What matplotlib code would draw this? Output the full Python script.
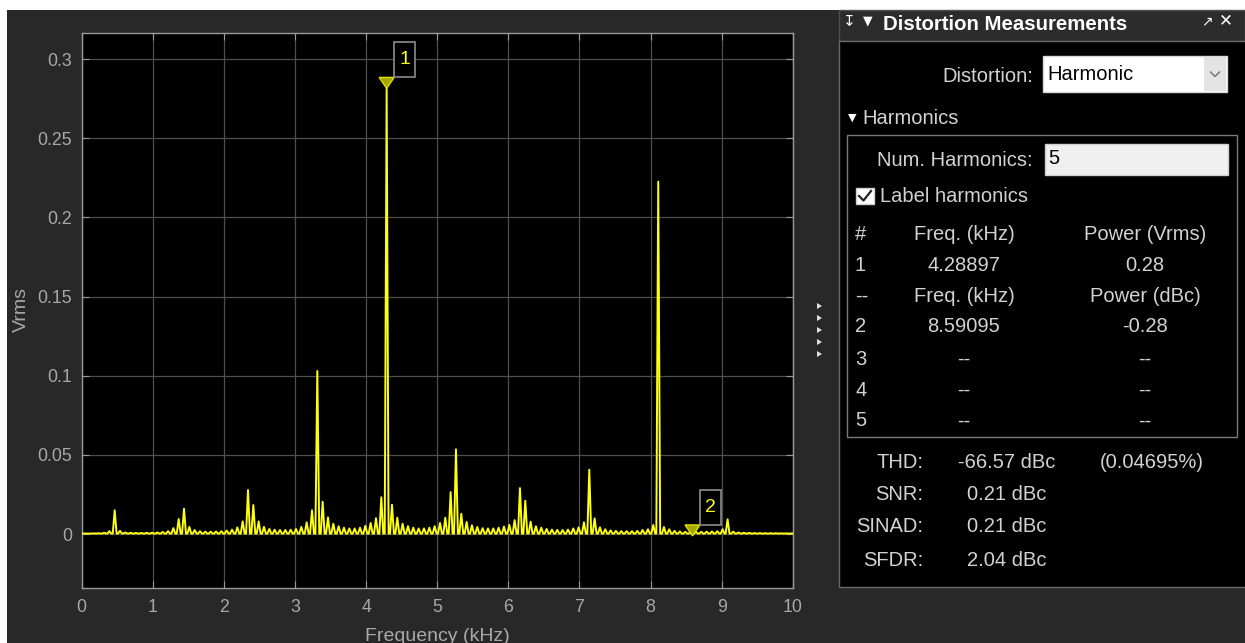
import numpy as np
import matplotlib
matplotlib.use("Agg")
import matplotlib.pyplot as plt
import matplotlib.transforms as mtransforms
from matplotlib.patches import Rectangle, Polygon
from matplotlib.lines import Line2D

W, H = 1245, 643

# spectrum comb peaks (kHz, Vrms)
peak_khz = [
    0.014, 0.089, 0.164, 0.239, 0.314, 0.389, 0.464, 0.539, 0.614, 0.689,
    0.764, 0.839, 0.914, 0.989, 1.064, 1.139, 1.214, 1.289, 1.364, 1.439,
    1.514, 1.589, 1.664, 1.739, 1.814, 1.889, 1.964, 2.039, 2.114, 2.189,
    2.264, 2.339, 2.414, 2.489, 2.564, 2.639, 2.714, 2.789, 2.864, 2.939,
    3.014, 3.089, 3.164, 3.239, 3.314, 3.389, 3.464, 3.539, 3.614, 3.689,
    3.764, 3.839, 3.914, 3.989, 4.064, 4.139, 4.214, 4.289, 4.364, 4.439,
    4.514, 4.589, 4.664, 4.739, 4.814, 4.889, 4.964, 5.039, 5.114, 5.189,
    5.264, 5.339, 5.414, 5.489, 5.564, 5.639, 5.714, 5.789, 5.864, 5.939,
    6.014, 6.089, 6.164, 6.239, 6.314, 6.389, 6.464, 6.539, 6.614, 6.689,
    6.764, 6.839, 6.914, 6.989, 7.064, 7.139, 7.214, 7.289, 7.364, 7.439,
    7.514, 7.589, 7.664, 7.739, 7.814, 7.889, 7.964, 8.039, 8.109, 8.189,
    8.264, 8.339, 8.414, 8.489, 8.564, 8.639, 8.714, 8.789, 8.864, 8.939,
    9.014, 9.084, 9.164, 9.239, 9.314, 9.389, 9.464, 9.539, 9.614, 9.689,
    9.764, 9.839, 9.914, 9.989,
]
peak_vrms = [
    0.0003, 0.0003, 0.0004, 0.0005, 0.0008, 0.0018, 0.0150, 0.0020, 0.0010, 0.0008,
    0.0007, 0.0007, 0.0008, 0.0008, 0.0010, 0.0013, 0.0018, 0.0037, 0.0095, 0.0160,
    0.0045, 0.0025, 0.0018, 0.0015, 0.0015, 0.0016, 0.0018, 0.0022, 0.0028, 0.0042,
    0.0080, 0.0278, 0.0183, 0.0080, 0.0045, 0.0032, 0.0027, 0.0025, 0.0025, 0.0027,
    0.0032, 0.0045, 0.0074, 0.0150, 0.1030, 0.0204, 0.0105, 0.0065, 0.0049, 0.0040,
    0.0035, 0.0035, 0.0040, 0.0052, 0.0070, 0.0100, 0.0232, 0.2815, 0.0185, 0.0103,
    0.0065, 0.0050, 0.0040, 0.0035, 0.0035, 0.0040, 0.0050, 0.0070, 0.0103, 0.0265,
    0.0535, 0.0128, 0.0076, 0.0055, 0.0045, 0.0037, 0.0035, 0.0035, 0.0040, 0.0047,
    0.0058, 0.0088, 0.0290, 0.0210, 0.0078, 0.0049, 0.0040, 0.0032, 0.0028, 0.0026,
    0.0025, 0.0028, 0.0035, 0.0042, 0.0074, 0.0406, 0.0099, 0.0042, 0.0030, 0.0023,
    0.0020, 0.0018, 0.0018, 0.0018, 0.0020, 0.0025, 0.0030, 0.0057, 0.2226, 0.0044,
    0.0030, 0.0020, 0.0016, 0.0014, 0.0013, 0.0013, 0.0014, 0.0015, 0.0016, 0.0018,
    0.0030, 0.0093, 0.0015, 0.0010, 0.0008, 0.0007, 0.0006, 0.0006, 0.0005, 0.0005,
    0.0005, 0.0004, 0.0004, 0.0004,
]

marker_khz = [4.28897, 8.59095]
marker_vrms = [0.2815, -0.0012]
marker_labels = ["1", "2"]

xticks = [0, 1, 2, 3, 4, 5, 6, 7, 8, 9, 10]
yticks = [0, 0.05, 0.1, 0.15, 0.2, 0.25, 0.3]
ytick_labels = ["0", "0.05", "0.1", "0.15", "0.2", "0.25", "0.3"]

table_rows = [
    ("#", "Freq. (kHz)", "Power (Vrms)"),
    ("1", "4.28897", "0.28"),
    ("--", "Freq. (kHz)", "Power (dBc)"),
    ("2", "8.59095", "-0.28"),
    ("3", "--", "--"),
    ("4", "--", "--"),
    ("5", "--", "--"),
]
stat_names = ["THD:", "SNR:", "SINAD:", "SFDR:"]
stat_values = ["-66.57 dBc", "0.21 dBc", "0.21 dBc", "2.04 dBc"]
stat_extra = ["(0.04695%)", "", "", ""]

BG = "#282828"
FG = "#a8a8a8"
PANEL_FG = "#d2d2d2"
YELLOW = "#ffff11"

plt.rcParams["font.family"] = ["Liberation Sans", "DejaVu Sans"]

fig = plt.figure(figsize=(W / 100, H / 100), dpi=100, facecolor="white")


def fx(x):
    return x / W


def fy(y):
    return 1 - y / H


def prect(x0, y0, x1, y1, **kw):
    r = Rectangle((fx(x0), fy(y1)), (x1 - x0) / W, (y1 - y0) / H,
                  transform=fig.transFigure, **kw)
    fig.add_artist(r)


def ptext(x, y, s, **kw):
    kw.setdefault("va", "center")
    kw.setdefault("fontsize", 14.5)
    kw.setdefault("color", PANEL_FG)
    fig.text(fx(x), fy(y), s, **kw)


# dark background below the white strip (kept behind the axes)
prect(7, 10, W, H, facecolor=BG, edgecolor="none", zorder=-10)

# ---- spectrum axes ----
ax_l, ax_r, ax_t, ax_b = 81.7, 792.7, 33, 588
ax = fig.add_axes([fx(ax_l), fy(ax_b), (ax_r - ax_l) / W, (ax_b - ax_t) / H])
ax.set_facecolor("black")

hw = 0.027
floor = 0.0003
xs, ys = [], []
for f, v in zip(peak_khz, peak_vrms):
    xs += [f - hw, f, f + hw]
    ys += [floor, v, floor]
ax.plot(xs, ys, color=YELLOW, lw=1.4, zorder=3)

ax.set_xlim(0, 10)
ax.set_ylim(-0.0341, 0.3165)
ax.set_xticks(xticks)
ax.set_yticks(yticks)
ax.set_yticklabels(ytick_labels)
ax.grid(True, color="#4e4e4e", lw=0.9)
ax.set_axisbelow(True)
for s in ax.spines.values():
    s.set_color("#9a9a9a")
    s.set_linewidth(1.0)
ax.tick_params(direction="in", top=True, right=True, length=5, width=0.8,
               color="#9a9a9a", labelcolor=FG, labelsize=12.8)
ax.tick_params(axis="y", pad=7)
ax.tick_params(axis="x", pad=8)

fig.text(fx(437), fy(641), "Frequency (kHz)", ha="center", va="baseline",
         fontsize=14, color=FG)
fig.text(fx(21), fy(310), "Vrms", ha="center", va="center", rotation=90,
         fontsize=14, color=FG)

# harmonic markers with label boxes (pixel offsets from the data point)
for f, v, lab in zip(marker_khz, marker_vrms, marker_labels):
    tr = mtransforms.ScaledTranslation(f, v, ax.transData)
    tri = Polygon([(-7.5, 11), (7.5, 11), (0, 0)], closed=True, transform=tr,
                  facecolor="#a6a600", edgecolor="#dede00", lw=1.0, zorder=5,
                  clip_on=False)
    ax.add_artist(tri)
    box = Rectangle((7.5, 11), 21, 35, transform=tr, facecolor="black",
                    edgecolor="#8c8c8c", lw=1.2, zorder=5, clip_on=False)
    ax.add_artist(box)
    ax.text(18, 28.5, lab, transform=tr, ha="center", va="center",
            color=YELLOW, fontsize=14, zorder=6, clip_on=False)

# splitter arrows
for yy in [306, 318, 330, 342, 354]:
    fig.add_artist(Polygon([(fx(817), fy(yy - 3)), (fx(817), fy(yy + 3)),
                            (fx(822), fy(yy))], closed=True,
                           transform=fig.transFigure, facecolor="#e0e0e0",
                           edgecolor="none"))

# ---- measurement panel ----
prect(839, 10, W, 41, facecolor="#2c2c2c", edgecolor="#505050", lw=1.0)
prect(839, 41, W + 2, 587, facecolor="black", edgecolor="#6a6a6a", lw=1.0)

ptext(849, 21, "\u21a7", color="white", fontsize=11, ha="center",
      family=["DejaVu Sans"])
ptext(868, 21, "\u25bc", color="white", fontsize=9, ha="center",
      family=["DejaVu Sans"])
ptext(883, 25, "Distortion Measurements", color="white", fontsize=14.7,
      fontweight="bold", ha="left")
ptext(1207, 21, "\u2197", color="white", fontsize=10, ha="center",
      family=["DejaVu Sans"])
ptext(1226, 20, "\u2715", color="white", fontsize=12, ha="center",
      family=["DejaVu Sans"])

# distortion dropdown
ptext(1033, 77, "Distortion:", ha="right")
prect(1043, 56, 1227, 92, facecolor="white", edgecolor="#d8d8d8", lw=1.0)
prect(1204, 57, 1226, 91, facecolor="#e3e3e3", edgecolor="none")
fig.add_artist(Line2D([fx(1210.5), fx(1215), fx(1219.5)],
                      [fy(72), fy(76.5), fy(72)], transform=fig.transFigure,
                      color="#707070", lw=1.0))
ptext(1047, 75, "Harmonic", ha="left", color="black")

# harmonics group
ptext(852, 118, "\u25bc", fontsize=8, ha="center", color="white",
      family=["DejaVu Sans"])
ptext(862, 119, "Harmonics", ha="left")
prect(847, 135, 1237, 437, facecolor="none", edgecolor="#7a7a7a", lw=1.0)

ptext(1033, 160, "Num. Harmonics:", ha="right")
prect(1045, 144, 1228, 175, facecolor="#efefef", edgecolor="#d0d0d0", lw=1.0)
ptext(1048, 159, "5", ha="left", color="black")

prect(856, 188, 874, 204, facecolor="white", edgecolor="#d0d0d0", lw=1.0)
fig.add_artist(Line2D([fx(859), fx(863.5), fx(871)],
                      [fy(196), fy(200.5), fy(191)], transform=fig.transFigure,
                      color="#222222", lw=1.6))
ptext(880, 196, "Label harmonics", ha="left")

row_y = [234, 265, 296, 327, 359, 390, 421]
for yy, (c0, c1, c2) in zip(row_y, table_rows):
    ptext(855, yy, c0, ha="left")
    ptext(964, yy, c1, ha="center")
    ptext(1145, yy, c2, ha="center")

stat_y = [463, 495, 527, 560]
for yy, n, v, e in zip(stat_y, stat_names, stat_values, stat_extra):
    ptext(923, yy, n, ha="right")
    ptext(1007, yy, v, ha="center")
    if e:
        ptext(1152, yy, e, ha="center")

fig.savefig("out.png", dpi=100, facecolor=fig.get_facecolor())
